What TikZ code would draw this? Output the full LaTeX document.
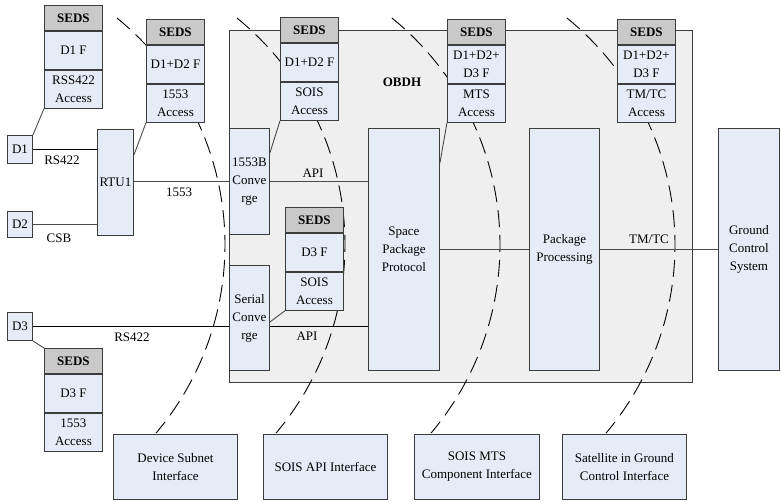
\documentclass[tikz,border=0pt]{standalone}
\usepackage{fontspec}
\setmainfont{Liberation Serif}
\definecolor{boxfill}{HTML}{E6ECF7}
\definecolor{hdrfill}{HTML}{C9C9C9}
\definecolor{obdhfill}{HTML}{EFEFEF}
\definecolor{edgecol}{HTML}{3C3C3C}
\definecolor{conncol}{HTML}{4A4A4A}
\newcommand{\myfs}{\fontsize{13}{18}\selectfont}
\tikzset{
  box/.style={draw=edgecol, fill=boxfill, line width=0.9pt, inner sep=0pt, anchor=north west, align=center, font=\myfs},
  hdr/.style={box, fill=hdrfill, font=\myfs\bfseries},
  lbl/.style={inner sep=0pt, font=\myfs},
  conn/.style={draw=conncol, line width=0.9pt},
  arcline/.style={draw=black, line width=0.9pt, dash pattern=on 17pt off 8pt},
}
\newcommand{\seds}[5]{%
  \node[hdr, minimum width=58pt, minimum height=25pt] (#1h) at (#2,#3) {SEDS};
  \node[box, anchor=north, minimum width=58pt, minimum height=38pt] (#1m) at (#1h.south) {#4};
  \node[box, anchor=north, minimum width=58pt, minimum height=38pt] (#1b) at (#1m.south) {#5};
}
\begin{document}
\begin{tikzpicture}[x=1pt, y=-1pt]
\useasboundingbox (0,0) rectangle (781,501);
% OBDH container
\node[box, fill=obdhfill, minimum width=463pt, minimum height=352pt] (obdh) at (229,30) {};
\node[lbl, font=\myfs\bfseries] (obdhlbl) at (402,82) {OBDH};
% dashed interface arcs
\foreach \s in {0,120,275,450}{
  \draw[arcline] plot[domain=-51:40.2, samples=90, variable=\t]
    ({-66.8+\s+291.8*cos(\t)},{244.7+291.8*sin(\t)});
}
% devices
\node[box, minimum width=25pt, minimum height=28pt] (d1) at (7,135) {D1};
\node[box, minimum width=25pt, minimum height=26pt] (d2) at (7,211) {D2};
\node[box, minimum width=25pt, minimum height=28pt] (d3) at (7,312) {D3};
\node[box, minimum width=36pt, minimum height=106pt] (rtu) at (97,129) {RTU1};
% OBDH internals
\node[box, minimum width=40pt, minimum height=106pt] (cv1) at (229,128) {1553B\\Conve\\rge};
\node[box, minimum width=40pt, minimum height=105pt] (cv2) at (229,265) {Serial\\Conve\\rge};
\node[box, minimum width=71pt, minimum height=242pt] (spp) at (368,128) {Space\\Package\\Protocol};
\node[box, minimum width=70pt, minimum height=242pt] (pp) at (529,128) {Package\\Processing};
\node[box, minimum width=61pt, minimum height=242pt] (gnd) at (718,128) {Ground\\Control\\System};
% SEDS stacks
\seds{sA}{44}{5}{D1 F}{RSS422\\Access}
\seds{sB}{146}{19}{D1+D2 F}{1553\\Access}
\seds{sC}{280}{17}{D1+D2 F}{SOIS\\Access}
\seds{sD}{447}{19}{D1+D2+\\D3 F}{MTS\\Access}
\seds{sE}{617}{19}{D1+D2+\\D3 F}{TM/TC\\Access}
\seds{sF}{285}{207}{D3 F}{SOIS\\Access}
\seds{sG}{44}{348}{D3 F}{1553\\Access}
% bottom interface boxes
\node[box, minimum width=124pt, minimum height=65pt] (if1) at (113,434) {Device Subnet\\Interface};
\node[box, minimum width=124pt, minimum height=65pt] (if2) at (263,434) {SOIS API Interface};
\node[box, minimum width=125pt, minimum height=65pt] (if3) at (414,434) {SOIS MTS\\Component Interface};
\node[box, minimum width=124pt, minimum height=65pt] (if4) at (562,434) {Satellite in Ground\\Control Interface};
% connectors
\draw[conn, draw=black] (d1.east) -- (rtu.west |- d1.east);
\draw[conn] (d2.east) -- (rtu.west |- d2.east);
\draw[conn] (rtu.east |- cv1.west) -- (cv1.west);
\draw[conn] (cv1.east) -- (spp.west |- cv1.east);
\draw[conn, draw=black] (d3.east) -- (cv2.west |- d3.east);
\draw[conn, draw=black] (cv2.east |- d3.east) -- (spp.west |- d3.east);
\draw[conn] (spp.east) -- (pp.west);
\draw[conn] (pp.east) -- (gnd.west);
% SEDS attachment lines
\draw[conn] (d1.north east) -- (sAb.south west);
\draw[conn] ([yshift=-26pt]rtu.north east) -- (sBb.south west);
\draw[conn] ([yshift=-25pt]cv1.north east) -- (sCb.south west);
\draw[conn] ([yshift=-35pt]spp.north east) -- (sDb.south west);
\draw[conn] ([yshift=-57pt]cv2.north east) -- (sFb.south west);
\draw[conn] (d3.south east) -- (sGh.north west);
% labels
\node[lbl] (l1) at (62,160) {RS422};
\node[lbl] (l2) at (59,238) {CSB};
\node[lbl] (l3) at (179,192) {1553};
\node[lbl] (l4) at (313,173) {API};
\node[lbl] (l5) at (132,337) {RS422};
\node[lbl] (l6) at (307,336) {API};
\node[lbl] (l7) at (649,239) {TM/TC};
\end{tikzpicture}
\end{document}
